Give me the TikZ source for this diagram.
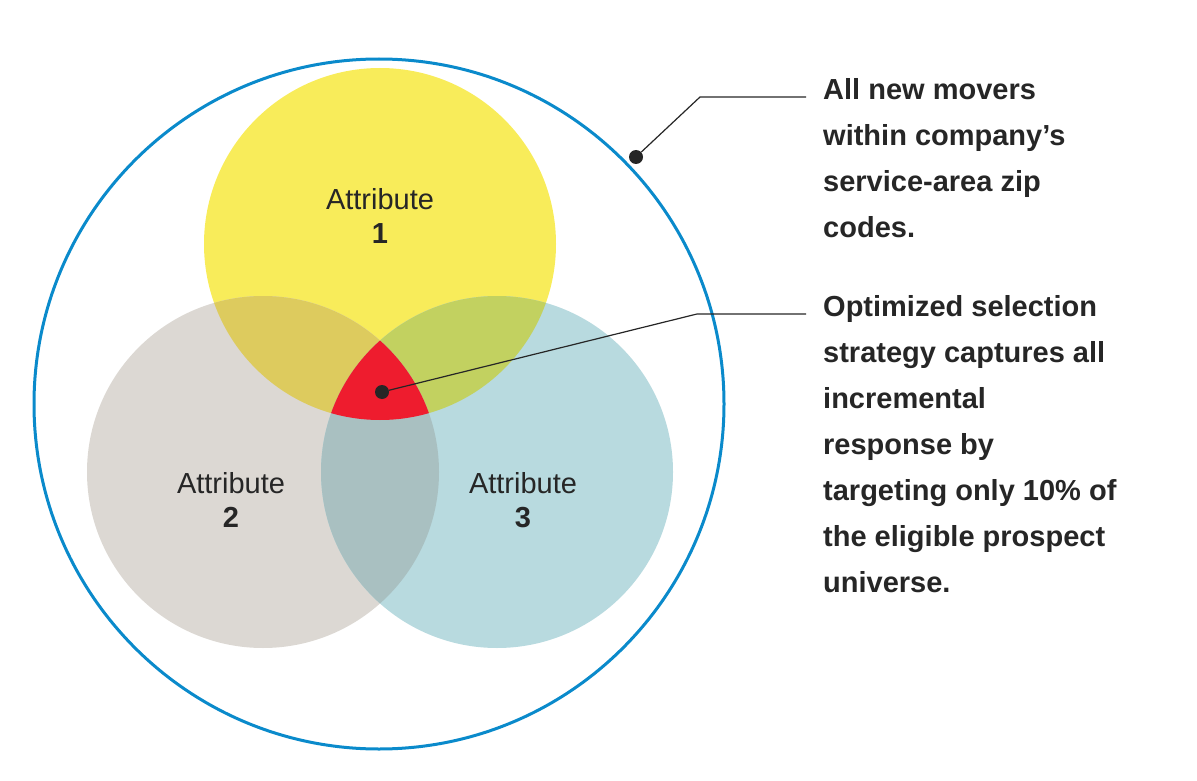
\documentclass[tikz,border=0pt]{standalone}
\usepackage{fontspec}
\setmainfont{Liberation Sans}
\definecolor{cy}{HTML}{F8EC5A}
\definecolor{cg}{HTML}{DCD8D3}
\definecolor{ct}{HTML}{B8DADF}
\definecolor{cyg}{HTML}{DDCB5E}
\definecolor{cyt}{HTML}{C2D160}
\definecolor{cgt}{HTML}{A9C0C1}
\definecolor{cred}{HTML}{EE1C2E}
\definecolor{cblue}{HTML}{0A8ACB}
\begin{document}
\begin{tikzpicture}[x=1pt,y=-1pt,
  lbl/.style={font=\fontsize{29}{34}\selectfont,align=center,text=black!85},
  note/.style={font=\fontsize{29}{46}\selectfont\bfseries,align=left,anchor=north west,text=black!85,inner sep=0pt},
  dotn/.style={circle,fill=black!85,inner sep=0pt,minimum size=14pt},
  lead/.style={draw=black!85,line width=1.2pt}]
\useasboundingbox (0,0) rectangle (1197,781);
\def\Y{(380,244) circle (176)}
\def\G{(263,472) circle (176)}
\def\T{(497,472) circle (176)}
\fill[cy] \Y; \fill[cg] \G; \fill[ct] \T;
\begin{scope}\clip \Y; \fill[cyg] \G; \end{scope}
\begin{scope}\clip \Y; \fill[cyt] \T; \end{scope}
\begin{scope}\clip \G; \fill[cgt] \T; \end{scope}
\begin{scope}\clip \Y; \clip \G; \fill[cred] \T; \end{scope}
\draw[cblue,line width=3pt] (379,404) circle (345);
\node[lbl] (a1) at (380,216) {Attribute\\ \textbf{1}};
\node[lbl] (a2) at (231,500) {Attribute\\ \textbf{2}};
\node[lbl] (a3) at (523,500) {Attribute\\ \textbf{3}};
\node[dotn] (d1) at (636,157) {};
\node[dotn] (d2) at (382,392) {};
\coordinate (k1) at (700,97);
\coordinate (e1) at (806,97);
\coordinate (k2) at (697,314);
\coordinate (e2) at (806,314);
\draw[lead] (d1) -- (k1) -- (e1);
\draw[lead] (d2) -- (k2) -- (e2);
\node[note] (t1) at (823,78) {All new movers\\within company’s\\service-area zip\\codes.};
\node[note] (t2) at (823,295) {Optimized selection\\strategy captures all\\incremental\\response by\\targeting only 10\% of\\the eligible prospect\\universe.};
\end{tikzpicture}
\end{document}
